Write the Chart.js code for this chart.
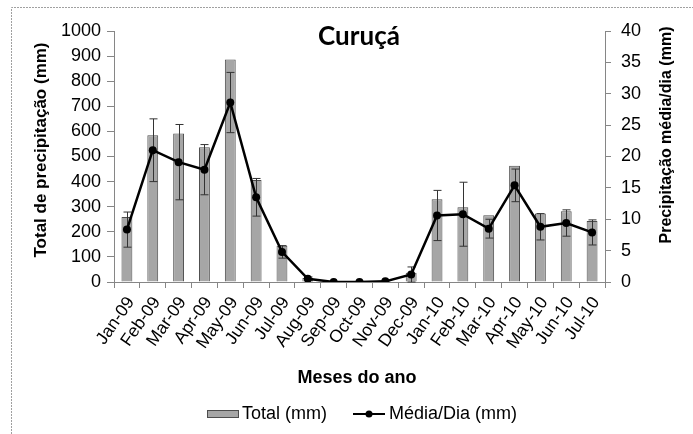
<!DOCTYPE html>
<html>
<head>
<meta charset="utf-8">
<script src="https://cdn.jsdelivr.net/npm/chart.js@4.4.1/dist/chart.umd.min.js"></script>
<style>
  html, body { margin: 0; padding: 0; background: #fff; }
  #wrap { position: relative; width: 693px; height: 434px; }
</style>
</head>
<body>
<div id="wrap"><canvas id="c"></canvas></div>
<script>
const categories = ['Jan-09','Feb-09','Mar-09','Apr-09','May-09','Jun-09','Jul-09','Aug-09','Sep-09','Oct-09','Nov-09','Dec-09','Jan-10','Feb-10','Mar-10','Apr-10','May-10','Jun-10','Jul-10'];
const totalMm = [259, 585, 592, 537, 886, 406, 144, 16, 0, 0, 3, 37, 330, 298, 266, 463, 273, 282, 243];
const mediaDia = [8.35, 21.0, 19.1, 17.9, 28.6, 13.5, 4.8, 0.5, 0, 0, 0.1, 1.2, 10.6, 10.8, 8.5, 15.4, 8.8, 9.4, 7.9];
const mediaErr = [2.8, 5.0, 6.0, 4.0, 4.8, 3.0, 1.0, 0.3, 0, 0, 0, 1.2, 4.0, 5.1, 1.5, 2.6, 2.1, 2.1, 2.0];
const leftTicks = [0, 100, 200, 300, 400, 500, 600, 700, 800, 900, 1000];
const rightTicks = [0, 5, 10, 15, 20, 25, 30, 35, 40];

const FONT = "'Liberation Sans', Arial, sans-serif";
const BAR_FILL = '#a6a6a6';
const BAR_EDGE = '#4d4d4d';
const AXIS = '#868686';

const errorBars = {
  id: 'errorBars',
  afterDatasetDraw(chart, args) {
    if (args.index !== 0) return;
    const ctx = chart.ctx, xs = chart.scales.x, ys = chart.scales.y1;
    ctx.save();
    ctx.strokeStyle = '#333';
    ctx.lineWidth = 1;
    mediaDia.forEach((v, i) => {
      const e = mediaErr[i];
      if (!e) return;
      const x = Math.round(xs.getPixelForValue(i)) + 0.5;
      const yt = ys.getPixelForValue(v + e), yb = ys.getPixelForValue(Math.max(0, v - e));
      ctx.beginPath();
      ctx.moveTo(x, yt); ctx.lineTo(x, yb);
      ctx.moveTo(x - 4, yt); ctx.lineTo(x + 4, yt);
      ctx.moveTo(x - 4, yb); ctx.lineTo(x + 4, yb);
      ctx.stroke();
    });
    ctx.restore();
  }
};

const decor = {
  id: 'decor',
  beforeDraw(chart) {
    const ctx = chart.ctx;
    ctx.save();
    ctx.fillStyle = '#fff';
    ctx.fillRect(0, 0, chart.width, chart.height);
    ctx.strokeStyle = '#a0a0a0';
    ctx.lineWidth = 1;
    ctx.setLineDash([2, 1]);
    ctx.beginPath();
    ctx.moveTo(11.5, 434); ctx.lineTo(11.5, 7.5); ctx.lineTo(693, 7.5);
    ctx.stroke();
    ctx.restore();
  },
  afterDraw(chart) {
    const ctx = chart.ctx;
    ctx.save();
    ctx.fillStyle = '#000';
    // title
    ctx.font = "bold 26px Lato, 'Open Sans', sans-serif";
    ctx.textAlign = 'center';
    ctx.textBaseline = 'alphabetic';
    ctx.fillText('Curuçá', 359, 45);
    // left axis title
    ctx.font = 'bold 17px ' + FONT;
    ctx.textBaseline = 'middle';
    ctx.save();
    ctx.translate(41, 150);
    ctx.rotate(-Math.PI / 2);
    ctx.fillText('Total de precipitação (mm)', 0, 0);
    ctx.restore();
    // right axis title
    ctx.save();
    ctx.translate(667, 135);
    ctx.rotate(-Math.PI / 2);
    ctx.font = 'bold 16px ' + FONT;
    ctx.fillText('Precipitação média/dia (mm)', 0, 0);
    ctx.restore();
    // x axis title
    ctx.font = 'bold 18px ' + FONT;
    ctx.fillText('Meses do ano', 357, 378);
    // legend
    const ly = 414;
    ctx.fillStyle = BAR_FILL;
    ctx.fillRect(207, 410, 32, 8);
    ctx.strokeStyle = BAR_EDGE;
    ctx.lineWidth = 1;
    ctx.strokeRect(207.5, 410.5, 31, 7);
    ctx.fillStyle = '#000';
    ctx.font = '18px ' + FONT;
    ctx.textAlign = 'left';
    ctx.fillText(chart.data.datasets[0].label, 242, ly);
    ctx.strokeStyle = '#000';
    ctx.lineWidth = 2;
    ctx.beginPath();
    ctx.moveTo(353, ly); ctx.lineTo(385, ly);
    ctx.stroke();
    ctx.beginPath();
    ctx.arc(369, ly, 3.5, 0, Math.PI * 2);
    ctx.fill();
    ctx.fillText(chart.data.datasets[1].label, 389, ly);
    ctx.restore();
  }
};

new Chart(document.getElementById('c'), {
  type: 'bar',
  data: {
    labels: categories,
    datasets: [
      {
        type: 'bar',
        label: 'Total (mm)',
        data: totalMm,
        yAxisID: 'y',
        backgroundColor: BAR_FILL,
        borderColor: BAR_EDGE,
        borderWidth: 1,
        barPercentage: 0.84,
        categoryPercentage: 0.5,
        order: 2
      },
      {
        type: 'line',
        label: 'Média/Dia (mm)',
        data: mediaDia,
        yAxisID: 'y1',
        borderColor: '#000',
        backgroundColor: '#000',
        borderWidth: 2.5,
        pointRadius: 4,
        pointBackgroundColor: '#000',
        pointBorderWidth: 0,
        tension: 0,
        order: 1
      }
    ]
  },
  options: {
    responsive: true,
    maintainAspectRatio: false,
    animation: false,
    layout: { padding: { top: 31, left: 0, right: 0, bottom: 0 } },
    plugins: {
      legend: { display: false },
      title: { display: false },
      tooltip: { enabled: false }
    },
    scales: {
      x: {
        position: 'bottom',
        offset: true,
        grid: { display: true, drawOnChartArea: false, offset: true, color: AXIS, tickLength: 6, tickColor: AXIS },
        border: { color: AXIS, width: 1 },
        ticks: { color: '#000', font: { family: FONT, size: 17.5 }, minRotation: 55, maxRotation: 55, autoSkip: false, padding: 5, labelOffset: 4 },
        afterFit(s) { s.height = 152; }
      },
      y: {
        position: 'left',
        min: 0, max: 1000,
        afterBuildTicks(s) { s.ticks = leftTicks.map(v => ({ value: v })); },
        grid: { display: true, drawOnChartArea: false, color: AXIS, tickLength: 7 },
        border: { color: AXIS, width: 1 },
        ticks: { color: '#000', font: { family: FONT, size: 18 }, padding: 6, callback: v => String(v) },
        afterFit(s) { s.width = 114; }
      },
      y1: {
        position: 'right',
        min: 0, max: 40,
        afterBuildTicks(s) { s.ticks = rightTicks.map(v => ({ value: v })); },
        grid: { display: true, drawOnChartArea: false, color: AXIS, tickLength: 6 },
        border: { color: AXIS, width: 1 },
        ticks: { color: '#000', font: { family: FONT, size: 18 }, padding: 10, callback: v => String(v) },
        afterFit(s) { s.width = 88; }
      }
    }
  },
  plugins: [decor, errorBars]
});
</script>
</body>
</html>
